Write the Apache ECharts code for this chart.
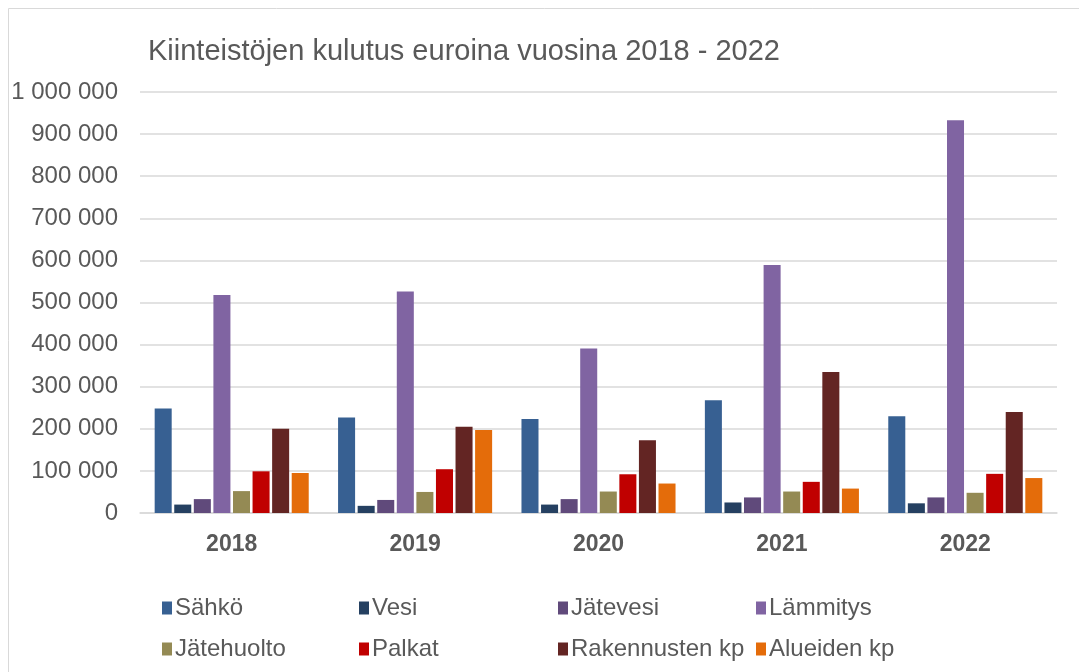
<!DOCTYPE html>
<html>
<head>
<meta charset="utf-8">
<script src="https://cdn.jsdelivr.net/npm/echarts@6/dist/echarts.min.js"></script>
<style>
  html, body { margin: 0; padding: 0; background: #fff; }
  #chart { width: 1079px; height: 672px; }
</style>
</head>
<body>
<div id="chart"></div>
<script>
const years = ['2018', '2019', '2020', '2021', '2022']

const sahko = [248000, 227000, 223000, 268000, 230000]
const vesi = [20000, 17000, 20000, 25000, 23000]
const jatevesi = [33000, 31000, 33000, 37000, 37000]
const lammitys = [518000, 526000, 391000, 589000, 933000]
const jatehuolto = [52000, 50000, 51000, 51000, 48000]
const palkat = [99000, 104000, 92000, 74000, 93000]
const rakennusten = [200000, 205000, 173000, 335000, 240000]
const alueiden = [95000, 197000, 70000, 58000, 83000]

const seriesNames = ['Sähkö', 'Vesi', 'Jätevesi', 'Lämmitys', 'Jätehuolto', 'Palkat', 'Rakennusten kp', 'Alueiden kp']
const seriesData = [sahko, vesi, jatevesi, lammitys, jatehuolto, palkat, rakennusten, alueiden]
const colors = ['#376092', '#254061', '#604a7b', '#8064a2', '#948a54', '#c00000', '#632523', '#e46c0a']

const textColor = '#595959'
const font = 'Liberation Sans, Arial, sans-serif'

function fmt(v) {
  return String(v).replace(/\B(?=(\d{3})+(?!\d))/g, ' ')
}

// one legend per column, two rows each
const legendCols = [157, 354, 553, 751]
const legends = legendCols.map((x, c) => ({
  orient: 'vertical',
  left: x,
  top: 591,
  icon: 'rect',
  itemWidth: 10,
  itemHeight: 13,
  itemGap: 17,
  textStyle: { color: textColor, fontSize: 24, fontFamily: font, padding: [0, 0, 0, -2] },
  selectedMode: false,
  data: [seriesNames[c], seriesNames[c + 4]]
}))

const chart = echarts.init(document.getElementById('chart'))

chart.setOption({
  animation: false,
  color: colors,
  title: {
    text: 'Kiinteistöjen kulutus euroina vuosina 2018 - 2022',
    left: 143,
    top: 32,
    textStyle: { color: textColor, fontSize: 29, fontWeight: 'normal', fontFamily: font }
  },
  graphic: [{
    type: 'rect',
    shape: { x: 8.5, y: 8.5, width: 1200, height: 800 },
    style: { fill: 'none', stroke: '#d9d9d9', lineWidth: 1 },
    silent: true
  }],
  legend: legends,
  grid: { left: 140, right: 22, top: 92, bottom: 159, containLabel: false },
  xAxis: {
    type: 'category',
    data: years,
    axisTick: { show: false },
    axisLine: { lineStyle: { color: '#d9d9d9', width: 1.5 } },
    axisLabel: { color: textColor, fontSize: 23, fontWeight: 'bold', fontFamily: font, margin: 20 }
  },
  yAxis: {
    type: 'value',
    min: 0,
    max: 1000000,
    interval: 100000,
    axisLine: { show: false },
    axisTick: { show: false },
    splitLine: { lineStyle: { color: '#d9d9d9', width: 1.5 } },
    axisLabel: { color: textColor, fontSize: 24, fontFamily: font, margin: 22, formatter: fmt }
  },
  series: seriesNames.map((name, i) => ({
    name: name,
    type: 'bar',
    data: seriesData[i],
    barGap: '15%',
    barCategoryGap: '16%'
  }))
})
</script>
</body>
</html>
